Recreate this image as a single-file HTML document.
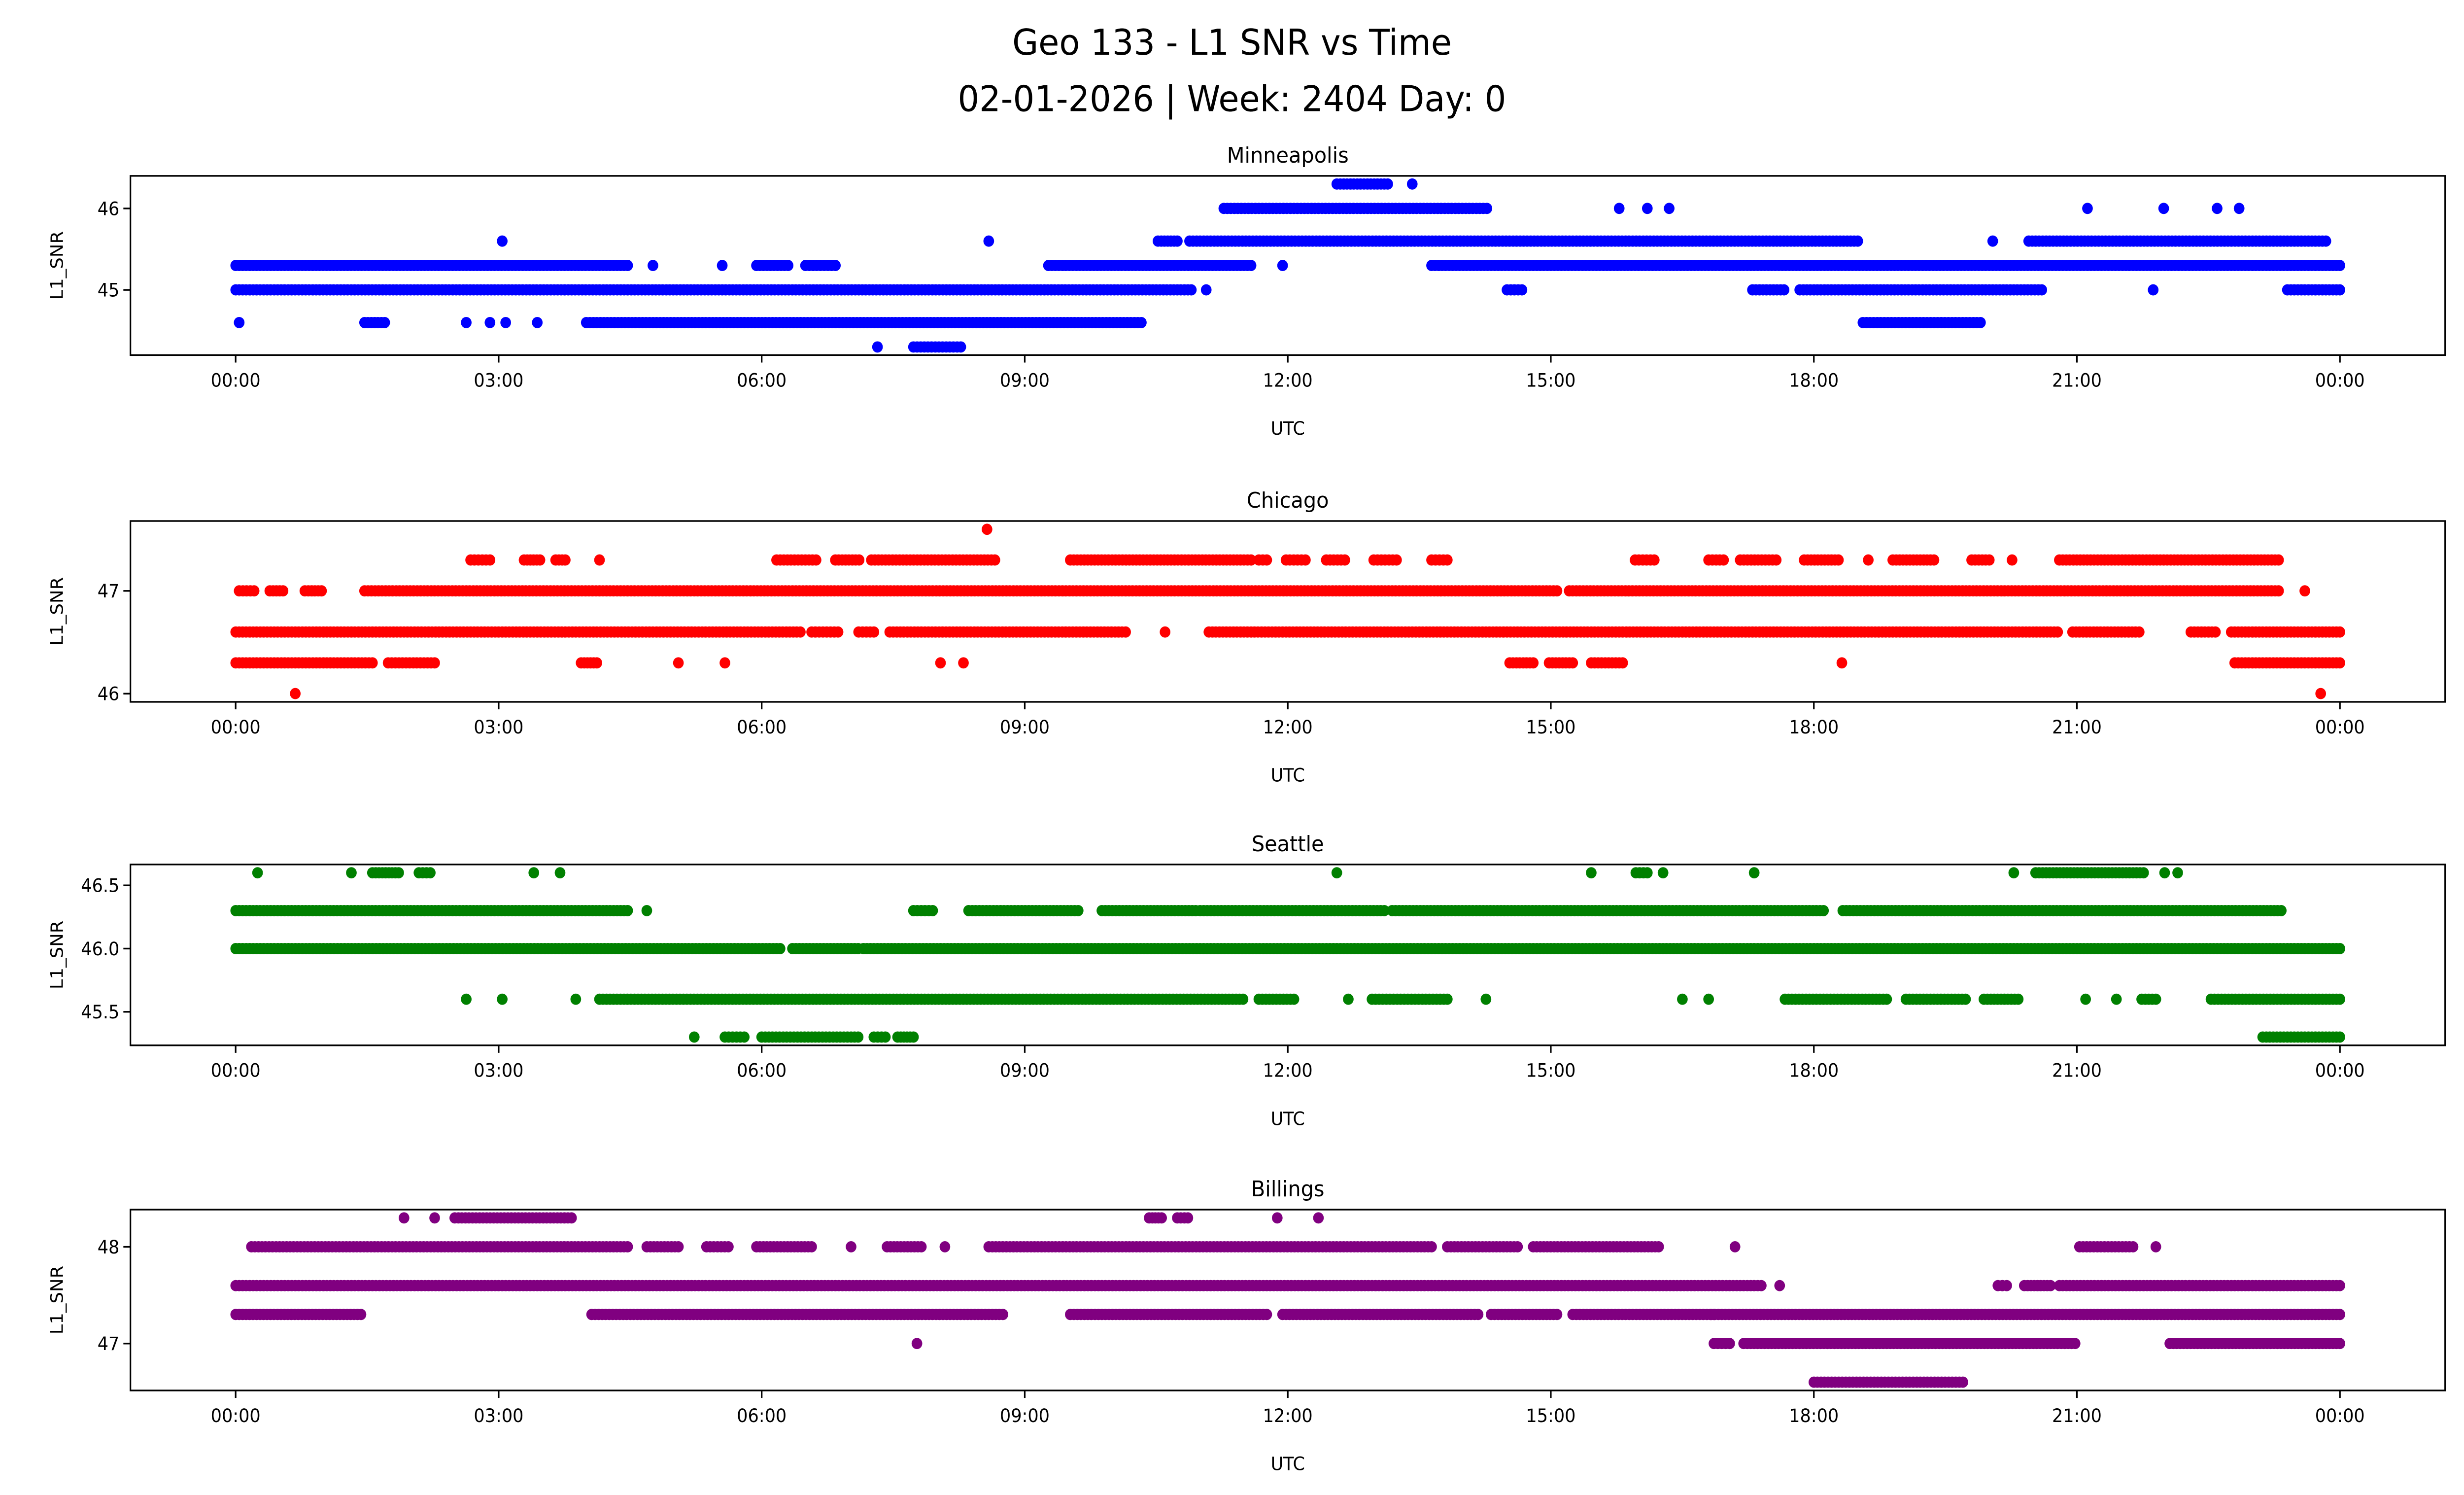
<!DOCTYPE html>
<html><head><meta charset="utf-8"><style>
html,body{margin:0;padding:0;background:#fff;overflow:hidden;width:100vw;height:100vh}
svg{display:block;position:fixed;left:0;top:0;width:100vw;height:100vh}
text{font-family:"DejaVu Sans","Liberation Sans",sans-serif;fill:#000}
</style></head><body>
<svg id="fig" viewBox="0 0 1568 901" preserveAspectRatio="none" xmlns="http://www.w3.org/2000/svg">
<rect x="0" y="0" width="1568" height="901" fill="#fff"/>
<text x="784" y="33" font-size="21.5" text-anchor="middle">Geo 133 - L1 SNR vs Time</text>
<text x="784" y="67" font-size="21.5" text-anchor="middle">02-01-2026 | Week: 2404 Day: 0</text>
<g id="panels"></g>
</svg>
<script>
// Shared x axis (hours UTC)
const xTickLabels = ["00:00","03:00","06:00","09:00","12:00","15:00","18:00","21:00","00:00"];
const xTickHours = [0,3,6,9,12,15,18,21,24];

// Run segments per station: [snr, startHour, endHour] (dense point runs)
const minneapolisRuns = [
 [45.3,0,4.47],[45.3,4.76,4.76],[45.3,5.55,5.55],[45.3,5.94,6.3],[45.3,6.5,6.84],[45.3,9.27,11.58],[45.3,11.94,11.94],[45.3,13.64,24],
 [45.0,0,10.9],[45.0,11.07,11.07],[45.0,14.5,14.67],[45.0,17.3,17.66],[45.0,17.84,20.6],[45.0,21.87,21.87],[45.0,23.4,24],
 [44.6,0.04,0.04],[44.6,1.47,1.7],[44.6,2.63,2.63],[44.6,2.9,2.9],[44.6,3.08,3.08],[44.6,3.44,3.44],[44.6,4.0,10.33],[44.6,18.56,19.9],
 [44.3,7.32,7.32],[44.3,7.73,8.27],
 [45.6,3.04,3.04],[45.6,8.59,8.59],[45.6,10.52,10.74],[45.6,10.88,18.5],[45.6,20.04,20.04],[45.6,20.45,23.84],
 [46.0,11.27,14.27],[46.0,15.78,15.78],[46.0,16.1,16.1],[46.0,16.35,16.35],[46.0,21.12,21.12],[46.0,21.99,21.99],[46.0,22.6,22.6],[46.0,22.85,22.85],
 [46.3,12.56,13.14],[46.3,13.42,13.42]
];
const chicagoRuns = [
 [46.6,0,6.44],[46.6,6.57,6.87],[46.6,7.106,7.28],[46.6,7.46,10.15],[46.6,10.6,10.6],[46.6,11.1,20.78],[46.6,20.95,21.71],[46.6,22.3,22.58],[46.6,22.76,24],
 [47.0,0.04,0.21],[47.0,0.39,0.54],[47.0,0.79,0.98],[47.0,1.47,15.07],[47.0,15.21,23.3],[47.0,23.6,23.6],
 [46.3,0,1.56],[46.3,1.74,2.27],[46.3,3.94,4.12],[46.3,5.05,5.05],[46.3,5.58,5.58],[46.3,8.04,8.04],[46.3,8.3,8.3],[46.3,14.53,14.8],[46.3,14.98,15.25],[46.3,15.46,15.82],[46.3,18.32,18.32],[46.3,22.8,24],
 [47.3,2.68,2.9],[47.3,3.29,3.47],[47.3,3.65,3.76],[47.3,4.15,4.15],[47.3,6.17,6.62],[47.3,6.84,7.11],[47.3,7.25,8.66],[47.3,9.52,11.58],[47.3,11.67,11.76],[47.3,11.98,12.2],[47.3,12.44,12.65],[47.3,12.98,13.24],[47.3,13.64,13.82],[47.3,15.96,16.18],[47.3,16.8,16.97],[47.3,17.16,17.57],[47.3,17.89,18.28],[47.3,18.62,18.62],[47.3,18.9,19.37],[47.3,19.8,20.0],[47.3,20.26,20.26],[47.3,20.8,23.3],
 [47.6,8.57,8.57],
 [46.0,0.68,0.68],[46.0,23.78,23.78]
];
const seattleRuns = [
 [46.0,0,6.21],[46.0,6.35,7.1],[46.0,7.16,24],
 [46.3,0,4.47],[46.3,4.69,4.69],[46.3,7.73,7.95],[46.3,8.36,9.61],[46.3,9.88,10.95],[46.3,11.0,13.1],[46.3,13.19,18.11],[46.3,18.33,23.33],
 [45.6,2.63,2.63],[45.6,3.04,3.04],[45.6,3.88,3.88],[45.6,4.15,11.49],[45.6,11.67,12.07],[45.6,12.69,12.69],[45.6,12.96,13.82],[45.6,14.26,14.26],[45.6,16.5,16.5],[45.6,16.8,16.8],[45.6,17.67,18.83],[45.6,19.05,19.73],[45.6,19.94,20.33],[45.6,21.1,21.1],[45.6,21.45,21.45],[45.6,21.74,21.9],[45.6,22.53,24],
 [46.6,0.25,0.25],[46.6,1.32,1.32],[46.6,1.56,1.86],[46.6,2.09,2.22],[46.6,3.4,3.4],[46.6,3.7,3.7],[46.6,12.56,12.56],[46.6,15.46,15.46],[46.6,15.97,16.1],[46.6,16.28,16.28],[46.6,17.32,17.32],[46.6,20.28,20.28],[46.6,20.53,21.76],[46.6,22.0,22.0],[46.6,22.15,22.15],
 [45.3,5.23,5.23],[45.3,5.58,5.8],[45.3,6.0,7.1],[45.3,7.28,7.41],[45.3,7.55,7.73],[45.3,23.12,24]
];
const billingsRuns = [
 [47.6,0,17.4],[47.6,17.61,17.61],[47.6,20.1,20.2],[47.6,20.4,20.7],[47.6,20.8,24],
 [47.3,0,1.43],[47.3,4.06,8.75],[47.3,9.52,11.76],[47.3,11.94,14.17],[47.3,14.32,15.07],[47.3,15.25,16.86],[47.3,16.83,24],
 [48.0,0.18,4.47],[48.0,4.69,5.05],[48.0,5.37,5.62],[48.0,5.94,6.57],[48.0,7.02,7.02],[48.0,7.43,7.82],[48.0,8.09,8.09],[48.0,8.59,13.64],[48.0,13.82,14.62],[48.0,14.8,16.23],[48.0,17.1,17.1],[48.0,21.03,21.64],[48.0,21.9,21.9],
 [48.3,1.92,1.92],[48.3,2.27,2.27],[48.3,2.5,3.83],[48.3,10.42,10.56],[48.3,10.74,10.86],[48.3,11.88,11.88],[48.3,12.35,12.35],
 [47.0,7.77,7.77],[47.0,16.86,17.04],[47.0,17.2,20.98],[47.0,22.06,24],
 [46.6,18.0,19.7]
];

const panels = [
 {name:"Minneapolis", color:"#0000ff", runs:minneapolisRuns, top:106, bot:214, ymin:44.2, ymax:46.4, ticks:[45,46], tickLbl:["45","46"]},
 {name:"Chicago", color:"#ff0000", runs:chicagoRuns, top:314, bot:423, ymin:45.92, ymax:47.68, ticks:[46,47], tickLbl:["46","47"]},
 {name:"Seattle", color:"#008000", runs:seattleRuns, top:521, bot:630, ymin:45.235, ymax:46.665, ticks:[45.5,46,46.5], tickLbl:["45.5","46.0","46.5"]},
 {name:"Billings", color:"#800080", runs:billingsRuns, top:729, bot:838, ymin:46.515, ymax:48.385, ticks:[47,48], tickLbl:["47","48"]}
];
const L=83, R=1556;
const xS = h => L + (h + 1.2) / 26.4 * (R - L);
const NS="http://www.w3.org/2000/svg";
const root=document.getElementById('panels');
function mk(tag, attrs, parent){const e=document.createElementNS(NS,tag);for(const k in attrs)e.setAttribute(k,attrs[k]);parent.appendChild(e);return e;}
panels.forEach((p,pi)=>{
  const g=mk('g',{},root);
  
  
  const yS = v => p.bot - (v - p.ymin)/(p.ymax-p.ymin)*(p.bot-p.top);
  const t=mk('text',{x:(L+R)/2,y:p.top-8,'font-size':13,'text-anchor':'middle'},g);
  t.textContent=p.name;
  
  
  const pts=mk('g',{fill:p.color},g);
  
  
  p.runs.forEach(r=>{
    const [v,a,b]=r;
    const n=Math.max(1,Math.round((b-a)/0.04));
    for(let i=0;i<=n;i++){
      const h = a+(b-a)*i/n;
      mk('circle',{cx:xS(h).toFixed(1),cy:yS(v).toFixed(1),r:3.4},pts);
      if(b===a)break;
    }
  });
  const fr=mk('rect',{x:L,y:p.top,width:R-L,height:p.bot-p.top,fill:'none',stroke:'#000','stroke-width':1},g);
  
  
  xTickHours.forEach((h,i)=>{
    const x=xS(h);
    mk('line',{x1:x,x2:x,y1:p.bot,y2:p.bot+4.5,stroke:'#000','stroke-width':1},g);
    const tl=mk('text',{x:x,y:p.bot+19,'font-size':11,'text-anchor':'middle'},g);
    tl.textContent=xTickLabels[i];
    
    
  });
  p.ticks.forEach((v,i)=>{
    const y=yS(v);
    mk('line',{x1:L-4.5,x2:L,y1:y,y2:y,stroke:'#000','stroke-width':1},g);
    const tl=mk('text',{x:L-7,y:y+4,'font-size':11,'text-anchor':'end'},g);
    tl.textContent=p.tickLbl[i];
    
    
  });
  const xl=mk('text',{x:(L+R)/2,y:p.bot+48,'font-size':11,'text-anchor':'middle'},g);
  xl.textContent='UTC';
  
  
  const yc=(p.top+p.bot)/2;
  const yl=mk('text',{x:40,y:yc,'font-size':11,'text-anchor':'middle',transform:`rotate(-90 40 ${yc})`},g);
  yl.textContent='L1_SNR';
  
  
});
</script>
</body></html>
